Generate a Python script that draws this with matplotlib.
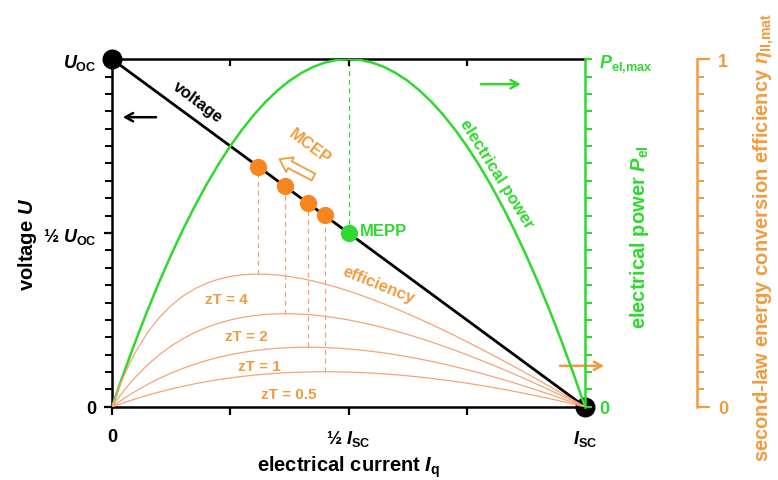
import matplotlib
matplotlib.use("Agg")
import matplotlib.pyplot as plt

plt.rcParams['font.family'] = ['Liberation Sans', 'DejaVu Sans']
plt.rcParams['font.weight'] = 'bold'
plt.rcParams['mathtext.fontset'] = 'custom'
plt.rcParams['mathtext.rm'] = 'Liberation Sans:bold'
plt.rcParams['mathtext.it'] = 'Liberation Sans:bold:italic'
plt.rcParams['mathtext.bf'] = 'Liberation Sans:bold'
plt.rcParams['lines.solid_joinstyle'] = 'round'

# normalised current I / I_SC
current = [0, 0.005, 0.01, 0.02, 0.03, 0.04, 0.05, 0.075, 0.1, 0.125, 0.15, 0.175,
           0.2, 0.225, 0.25, 0.275, 0.3, 0.325, 0.35, 0.375, 0.4, 0.425, 0.45, 0.475,
           0.5, 0.525, 0.55, 0.575, 0.6, 0.625, 0.65, 0.675, 0.7, 0.725, 0.75, 0.775,
           0.8, 0.825, 0.85, 0.875, 0.9, 0.925, 0.95, 0.975, 1.0]
# normalised voltage U / U_OC at open circuit and short circuit
voltage = [1.0, 0.0]
voltage_current = [0.0, 1.0]
# normalised electrical power P_el / P_el,max
power = [0, 0.0199, 0.0396, 0.0784, 0.1164, 0.1536, 0.19, 0.2775, 0.36, 0.4375, 0.51,
         0.5775, 0.64, 0.6975, 0.75, 0.7975, 0.84, 0.8775, 0.91, 0.9375, 0.96, 0.9775,
         0.99, 0.9975, 1.0, 0.9975, 0.99, 0.9775, 0.96, 0.9375, 0.91, 0.8775, 0.84,
         0.7975, 0.75, 0.6975, 0.64, 0.5775, 0.51, 0.4375, 0.36, 0.2775, 0.19, 0.0975, 0]
# second-law efficiency for several zT
eff_zT4 = [0, 0.01951, 0.03808, 0.07259, 0.10393, 0.13241, 0.15833, 0.21346, 0.25714,
           0.29167, 0.31875, 0.33971, 0.35556, 0.36711, 0.375, 0.37976, 0.38182, 0.38152,
           0.37917, 0.375, 0.36923, 0.36204, 0.35357, 0.34397, 0.33333, 0.32177, 0.30938,
           0.29621, 0.28235, 0.26786, 0.25278, 0.23716, 0.22105, 0.20449, 0.1875, 0.17012,
           0.15238, 0.13430, 0.11591, 0.09722, 0.07826, 0.05904, 0.03958, 0.01990, 0]
eff_zT2 = [0, 0.00985, 0.01941, 0.03769, 0.05491, 0.07111, 0.08636, 0.12065, 0.15, 0.175,
           0.19615, 0.21389, 0.22857, 0.24052, 0.25, 0.25726, 0.2625, 0.26591, 0.26765,
           0.26786, 0.26667, 0.26419, 0.26053, 0.25577, 0.25, 0.24329, 0.23571, 0.22733,
           0.21818, 0.20833, 0.19783, 0.18670, 0.175, 0.16276, 0.15, 0.13676, 0.12308,
           0.10896, 0.09444, 0.07955, 0.06429, 0.04868, 0.03276, 0.01653, 0]
eff_zT1 = [0, 0.00495, 0.00980, 0.01922, 0.02825, 0.03692, 0.04524, 0.06453, 0.08182,
           0.09722, 0.11087, 0.12287, 0.13333, 0.14235, 0.15, 0.15637, 0.16154, 0.16557,
           0.16852, 0.17045, 0.17143, 0.17149, 0.17069, 0.16907, 0.16667, 0.16352, 0.15968,
           0.15516, 0.15, 0.14423, 0.13788, 0.13097, 0.12353, 0.11558, 0.10714, 0.09824,
           0.08889, 0.07911, 0.06892, 0.05833, 0.04737, 0.03604, 0.02436, 0.01234, 0]
eff_zT05 = [0, 0.00248, 0.00493, 0.00970, 0.01433, 0.01882, 0.02317, 0.03343, 0.04286,
            0.05147, 0.05930, 0.06638, 0.07273, 0.07837, 0.08333, 0.08764, 0.09130, 0.09435,
            0.09681, 0.09868, 0.1, 0.10077, 0.10102, 0.10076, 0.1, 0.09876, 0.09706, 0.09490,
            0.09231, 0.08929, 0.08585, 0.08201, 0.07778, 0.07317, 0.06818, 0.06284, 0.05714,
            0.05111, 0.04474, 0.03804, 0.03103, 0.02372, 0.01610, 0.00819, 0]
# maximum conversion efficiency points (MCEP) for zT = 4, 2, 1, 0.5
mcep_current = [0.309, 0.366, 0.414, 0.4495]
mcep_voltage = [0.691, 0.634, 0.586, 0.5505]
mcep_eff = [0.382, 0.268, 0.172, 0.101]
# maximum electrical power point (MEPP)
mepp_current = [0.5]
mepp_voltage = [0.5]
mepp_power = [1.0]

zt_labels = ['zT = 4', 'zT = 2', 'zT = 1', 'zT = 0.5']
x_ticks = [0, 0.25, 0.5, 0.75, 1.0]
x_ticklabels = ['0', '', r'½ $I_{\mathrm{SC}}$', '', r'$I_{\mathrm{SC}}$']
u_ticks = [0, 0.5, 1.0]
u_ticklabels = ['0', r'½ $U_{\mathrm{OC}}$', r'$U_{\mathrm{OC}}$']
p_ticks = [0, 1.0]
p_ticklabels = ['0', r'$P_{\mathrm{el{,}max}}$']
e_ticks = [0, 1.0]
e_ticklabels = ['0', '1']

GREEN = '#2fd92f'
ORANGE = '#f29b3e'
ORANGE_LINE = '#f5a477'
DOT_ORANGE = '#f7861e'

fig = plt.figure(figsize=(7.78, 4.81), dpi=100)
ax = fig.add_axes([0.144, 0.152, 0.608, 0.723])
ax.set_xlim(0, 1)
ax.set_ylim(0, 1)

minor = [i / 20 for i in range(21)]

# left voltage axis
for s in ['left', 'bottom', 'top']:
    ax.spines[s].set_linewidth(1.8)
ax.spines['right'].set_visible(False)
ax.set_xticks(x_ticks)
ax.set_xticklabels(x_ticklabels, fontsize=13, fontweight='bold')
ax.set_yticks(u_ticks)
ax.set_yticklabels(u_ticklabels, fontsize=13, fontweight='bold')
ax.set_yticks(minor, minor=True)
ax.tick_params(axis='both', which='major', direction='out', length=6, width=1.6)
ax.tick_params(axis='x', which='major', pad=9)
ax.tick_params(axis='y', which='major', pad=5)
ax.tick_params(axis='y', which='minor', direction='out', length=5, width=1.4)
ax.set_ylabel(r'voltage $U$', fontsize=14.5, fontweight='bold')
ax.yaxis.set_label_coords(-0.155, 0.47)
ax.set_xlabel(r'electrical current $I_{\mathrm{q}}$', fontsize=14.5, fontweight='bold')
ax.xaxis.set_label_coords(0.5, -0.135)

# inward ticks along the top edge
axt = ax.twiny()
axt.set_xlim(0, 1)
for s in ['left', 'bottom', 'top', 'right']:
    axt.spines[s].set_visible(False)
axt.set_xticks([0.25, 0.5, 0.75])
axt.tick_params(axis='x', direction='in', length=5, width=1.6, labeltop=False)

# electrical power axis
axp = ax.twinx()
axp.set_ylim(0, 1)
for s in ['left', 'bottom', 'top']:
    axp.spines[s].set_visible(False)
axp.spines['right'].set_color(GREEN)
axp.spines['right'].set_linewidth(1.8)
axp.set_yticks(p_ticks)
axp.set_yticklabels(p_ticklabels, fontsize=13, fontweight='bold', color=GREEN)
axp.set_yticks(minor, minor=True)
axp.tick_params(axis='y', which='both', colors=GREEN, direction='out', length=5, width=1.4)
axp.tick_params(axis='y', which='major', labelcolor=GREEN, pad=5)
axp.set_ylabel(r'electrical power $P_{\mathrm{el}}$', fontsize=14.5, fontweight='bold',
               color=GREEN)
axp.yaxis.set_label_coords(1.091, 0.49)

# second-law efficiency axis
axe = ax.twinx()
axe.set_ylim(0, 1)
for s in ['left', 'bottom', 'top']:
    axe.spines[s].set_visible(False)
axe.spines['right'].set_position(('axes', 1.237))
axe.spines['right'].set_color(ORANGE)
axe.spines['right'].set_linewidth(1.8)
axe.set_yticks(e_ticks)
axe.set_yticklabels(e_ticklabels, fontsize=13, fontweight='bold', color=ORANGE)
axe.set_yticks(minor, minor=True)
axe.tick_params(axis='y', which='major', colors=ORANGE, direction='out', length=9, width=1.6, pad=6)
axe.tick_params(axis='y', which='minor', colors=ORANGE, direction='out', length=5, width=1.4)
axe.set_ylabel(r'second-law energy conversion efficiency $\eta_{\mathrm{II{,}mat}}$',
               fontsize=14.5, fontweight='bold', color=ORANGE)
axe.yaxis.set_label_coords(1.353, 0.49)

# efficiency curves
for eff in [eff_zT4, eff_zT2, eff_zT1, eff_zT05]:
    axe.plot(current, eff, color=ORANGE_LINE, lw=0.9, zorder=2)

# dashed drop lines from MCEP to efficiency maxima and from MEPP to P_el,max
ax.vlines(mcep_current, mcep_eff, mcep_voltage, colors=ORANGE_LINE, linestyles=(0, (4, 3)),
          lw=0.9, zorder=2)
ax.vlines(mepp_current, mepp_voltage, mepp_power, colors=GREEN, linestyles=(0, (4, 3)),
          lw=0.9, zorder=2)

# power parabola
axp.plot(current, power, color=GREEN, lw=1.8, zorder=3)

# voltage line
ax.plot(voltage_current, voltage, color='black', lw=2.0, zorder=4)
ax.scatter(voltage_current, voltage, s=180, color='black', zorder=6, clip_on=False)

# operating points
ax.scatter(mcep_current, mcep_voltage, s=130, color=DOT_ORANGE, zorder=7, clip_on=False)
ax.scatter(mepp_current, mepp_voltage, s=130, color=GREEN, zorder=7, clip_on=False)

# in-plot annotations
ax.text(0.181, 0.877, 'voltage', rotation=-37, fontsize=12, fontweight='bold',
        ha='center', va='center', color='black')
ax.text(0.417, 0.750, 'MCEP', rotation=-37, fontsize=12, fontweight='bold',
        ha='center', va='center', color=ORANGE)
ax.text(0.524, 0.506, 'MEPP', fontsize=12, fontweight='bold',
        ha='left', va='center', color=GREEN)
ax.text(0.563, 0.353, 'efficiency', rotation=-22, fontsize=12, fontweight='bold',
        ha='center', va='center', color=ORANGE)
ax.text(0.814, 0.672, 'electrical power', rotation=-58, fontsize=12, fontweight='bold',
        ha='center', va='center', color=GREEN)
for lab, (tx, ty) in zip(zt_labels, [(0.241, 0.310), (0.283, 0.204), (0.311, 0.118), (0.374, 0.037)]):
    ax.text(tx, ty, lab, fontsize=11, fontweight='bold', ha='center', va='center', color=ORANGE)

# direction arrows
ax.annotate('', xy=(0.017, 0.833), xytext=(0.099, 0.833),
            arrowprops=dict(arrowstyle='->,head_length=0.55,head_width=0.3', lw=1.8, color='black'))
ax.annotate('', xy=(0.870, 0.928), xytext=(0.774, 0.928),
            arrowprops=dict(arrowstyle='->,head_length=0.55,head_width=0.3', lw=1.8, color=GREEN))
ax.annotate('', xy=(1.046, 0.118), xytext=(0.941, 0.118), annotation_clip=False,
            arrowprops=dict(arrowstyle='->,head_length=0.55,head_width=0.3', lw=1.8, color=ORANGE))
ax.annotate('', xy=(0.349, 0.716), xytext=(0.431, 0.657),
            arrowprops=dict(arrowstyle='simple,head_length=0.85,head_width=1.2,tail_width=0.55',
                            fc='white', ec=ORANGE, lw=1.3))

fig.savefig('out.png', dpi=100)
